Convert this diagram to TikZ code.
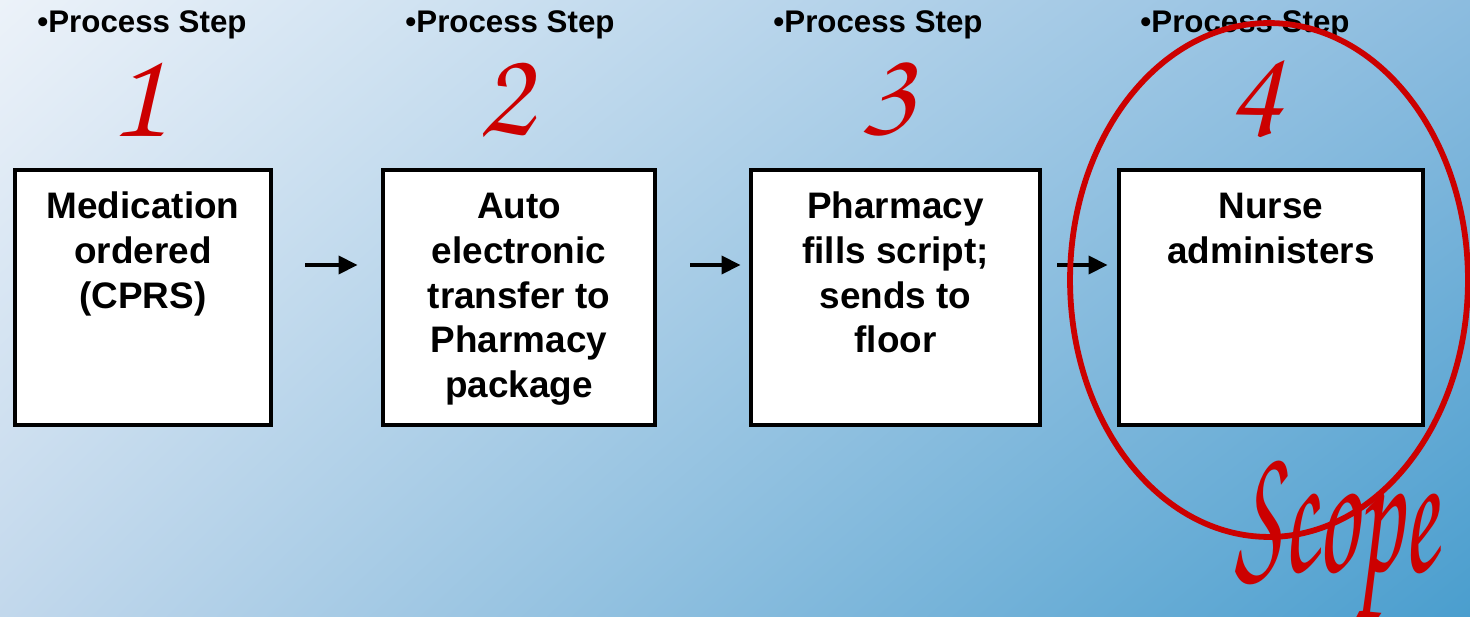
\documentclass[tikz,border=0pt]{standalone}
\usepackage{fontspec}
\setmainfont{Liberation Sans}
\usepackage{graphicx}
\usetikzlibrary{arrows.meta,shapes.geometric,shadings}
\definecolor{scopered}{HTML}{CC0000}
\definecolor{bgul}{RGB}{236,242,249}
\definecolor{bgur}{RGB}{140,188,223}
\definecolor{bgll}{RGB}{194,216,236}
\definecolor{bglr}{RGB}{74,158,206}
\newcommand\brushfont{\fontencoding{OT1}\fontfamily{pzc}\fontseries{mb}\fontshape{it}\selectfont}
\tikzset{
  stepbox/.style={draw, line width=2.5pt, fill=white, minimum height=5.1cm, inner sep=0pt},
  steptext/.style={anchor=north, align=center, inner sep=0pt, font=\bfseries\fontsize{21}{25.5}\selectfont},
  steplabel/.style={font=\bfseries\fontsize{17.8}{20}\selectfont, inner sep=0pt},
  stepnum/.style={text=scopered, font=\brushfont\fontsize{72}{72}\selectfont, inner sep=0pt},
  flow/.style={line width=2.8pt, -{Triangle[length=11pt,width=10pt]}},
}
\begin{document}
\begin{tikzpicture}[x=0.02cm,y=-0.02cm]
        \shade[upper left=bgul,upper right=bgur,lower left=bgll,lower right=bglr]
          (0,0) rectangle (1470,617);
        \useasboundingbox (0,0) rectangle (1470,617);
        % process boxes
        \draw (143,297.5) node[stepbox,minimum width=5.12cm](b1){};
        \draw (519,297.5) node[stepbox,minimum width=5.44cm](b2){};
        \draw (895.5,297.5) node[stepbox,minimum width=5.78cm](b3){};
        \draw (1271,297.5) node[stepbox,minimum width=6.08cm](b4){};
        \node[steptext] (t1) at ([yshift=-0.47cm]b1.north) {Medication\\ordered\\(CPRS)};
        \node[steptext] (t2) at ([yshift=-0.5cm]b2.north) {Auto\\electronic\\transfer to\\Pharmacy\\package};
        \node[steptext] (t3) at ([yshift=-0.47cm]b3.north) {Pharmacy\\fills script;\\sends to\\floor};
        \node[steptext] (t4) at ([yshift=-0.5cm]b4.north) {Nurse\\administers};
        % headings and numbers
        \draw (142,25) node[steplabel](l1){•Process Step};
        \draw (510,25) node[steplabel](l2){•Process Step};
        \draw (878,25) node[steplabel](l3){•Process Step};
        \draw (1245,25) node[steplabel](l4){•Process Step};
        \draw (137,97) node[stepnum](n1){1};
        \draw (505,97) node[stepnum](n2){2};
        \draw (887,97) node[stepnum](n3){3};
        \draw (1255,97) node[stepnum](n4){4};
        % arrows
        \draw[flow,shorten <=0.64cm,shorten >=0.46cm]
          ([yshift=0.65cm]b1.east) -- ([yshift=0.65cm]b2.west);
        \draw[flow,shorten <=0.66cm,shorten >=0.16cm]
          ([yshift=0.65cm]b2.east) -- ([yshift=0.65cm]b3.west);
        \draw[flow,shorten <=0.3cm,shorten >=0.18cm]
          ([yshift=0.65cm]b3.east) -- ([yshift=0.65cm]b4.west);
        % scope ring
        \draw (1269,280) node[ellipse,draw=scopered,line width=3.3pt,minimum width=7.96cm,minimum height=10.28cm,inner sep=0pt](ring){};
        \draw (1336,572) node[anchor=base,inner sep=0pt,text=scopered,font=\brushfont\fontsize{58}{58}\selectfont](scope){\scalebox{1}[1.85]{Scope}};
      \end{tikzpicture}
\end{document}
